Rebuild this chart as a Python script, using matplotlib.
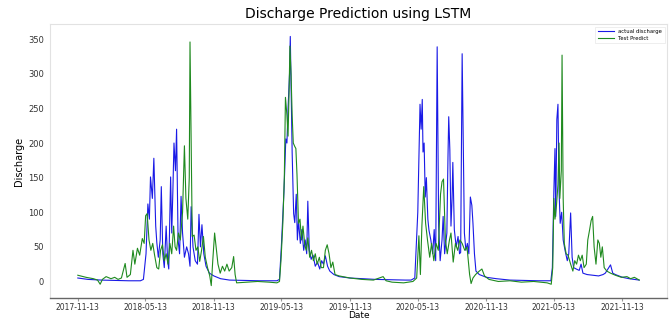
import matplotlib
matplotlib.use('Agg')
import matplotlib.pyplot as plt
import pandas as pd

# observed discharge
actual_dates = [
    '2017-11-13', '2017-12-10', '2018-01-15', '2018-02-20', '2018-03-30', '2018-04-30',
    '2018-05-08', '2018-05-15', '2018-05-20', '2018-05-24', '2018-05-27', '2018-06-01',
    '2018-06-05', '2018-06-10', '2018-06-13', '2018-06-17', '2018-06-22', '2018-06-25',
    '2018-06-29', '2018-07-03', '2018-07-08', '2018-07-12', '2018-07-15', '2018-07-20',
    '2018-07-23', '2018-07-26', '2018-07-29', '2018-08-02', '2018-08-05', '2018-08-09',
    '2018-08-13', '2018-08-17', '2018-08-21', '2018-08-26', '2018-09-01', '2018-09-06',
    '2018-09-10', '2018-09-13', '2018-09-18', '2018-09-24', '2018-09-30', '2018-10-04',
    '2018-10-08', '2018-10-12', '2018-10-17', '2018-10-23', '2018-11-01', '2018-11-13',
    '2018-12-01', '2018-12-25', '2019-02-01', '2019-03-15', '2019-04-20', '2019-05-01',
    '2019-05-08', '2019-05-13', '2019-05-17', '2019-05-20', '2019-05-25', '2019-05-28',
    '2019-05-31', '2019-06-04', '2019-06-06', '2019-06-09', '2019-06-11', '2019-06-15',
    '2019-06-18', '2019-06-22', '2019-06-25', '2019-06-28', '2019-07-03', '2019-07-07',
    '2019-07-12', '2019-07-16', '2019-07-20', '2019-07-23', '2019-07-27', '2019-08-01',
    '2019-08-06', '2019-08-12', '2019-08-18', '2019-08-24', '2019-08-29', '2019-09-03',
    '2019-09-08', '2019-09-14', '2019-09-20', '2019-10-01', '2019-10-15', '2019-11-13',
    '2019-12-15', '2020-01-20', '2020-03-01', '2020-04-10', '2020-04-25', '2020-05-05',
    '2020-05-13', '2020-05-17', '2020-05-19', '2020-05-22', '2020-05-25', '2020-05-27',
    '2020-05-30', '2020-06-02', '2020-06-05', '2020-06-09', '2020-06-12', '2020-06-17',
    '2020-06-22', '2020-06-26', '2020-06-30', '2020-07-04', '2020-07-08', '2020-07-12',
    '2020-07-17', '2020-07-20', '2020-07-24', '2020-07-30', '2020-08-02', '2020-08-04',
    '2020-08-07', '2020-08-10', '2020-08-13', '2020-08-15', '2020-08-19', '2020-08-24',
    '2020-08-29', '2020-09-02', '2020-09-05', '2020-09-09', '2020-09-12', '2020-09-15',
    '2020-09-19', '2020-09-23', '2020-09-27', '2020-10-01', '2020-10-05', '2020-10-08',
    '2020-10-12', '2020-10-16', '2020-10-25', '2020-11-13', '2020-12-10', '2021-01-15',
    '2021-02-20', '2021-04-01', '2021-05-05', '2021-05-09', '2021-05-13', '2021-05-16',
    '2021-05-18', '2021-05-21', '2021-05-24', '2021-05-27', '2021-05-30', '2021-06-03',
    '2021-06-07', '2021-06-12', '2021-06-18', '2021-06-22', '2021-06-27', '2021-07-01',
    '2021-07-05', '2021-07-12', '2021-07-20', '2021-07-25', '2021-07-30', '2021-08-10',
    '2021-08-25', '2021-09-10', '2021-09-22', '2021-09-28', '2021-10-12', '2021-10-18',
    '2021-10-25', '2021-11-13', '2021-12-01', '2021-12-28',
]
actual_vals = [
    5, 3, 2, 1.5, 1, 1,
    3, 40, 112, 90, 151, 120,
    178, 80, 56, 35, 60, 137,
    40, 20, 80, 30, 18, 151,
    70, 130, 200, 160, 220, 60,
    40, 123, 70, 35, 50, 40,
    22, 108, 50, 30, 25, 97,
    50, 82, 40, 22, 12, 8,
    4, 2, 1.5, 1, 1, 1,
    3, 50, 95, 130, 206, 200,
    250, 300, 354, 250, 186, 98,
    85, 126, 60, 88, 55, 75,
    45, 60, 40, 116, 45, 32,
    38, 22, 28, 18, 30, 25,
    37, 22, 15, 10, 7, 5,
    4, 3, 2.5, 2, 2, 5,
    100, 200, 256, 220, 263, 187,
    200, 122, 150, 90, 74, 60,
    40, 75, 30, 339, 80, 30,
    60, 94, 40, 70, 180, 238,
    190, 80, 120, 172, 75, 50,
    65, 40, 42, 329, 200, 70,
    45, 55, 40, 122, 110, 84,
    40, 15, 10, 6, 4, 2,
    1.5, 1, 1, 20, 130, 192,
    94, 234, 256, 130, 84, 100,
    60, 45, 30, 40, 99, 35,
    20, 18, 16, 25, 12, 10,
    9, 8, 10, 12, 24, 12,
    10, 6, 4, 2,
]

# LSTM prediction on the test period
pred_dates = [
    '2017-11-13', '2017-12-05', '2017-12-25', '2018-01-05', '2018-01-12', '2018-01-18',
    '2018-01-28', '2018-02-10', '2018-02-20', '2018-03-01', '2018-03-10', '2018-03-20',
    '2018-03-25', '2018-04-03', '2018-04-10', '2018-04-15', '2018-04-22', '2018-04-28',
    '2018-05-05', '2018-05-10', '2018-05-14', '2018-05-18', '2018-05-23', '2018-05-28',
    '2018-06-02', '2018-06-07', '2018-06-13', '2018-06-18', '2018-06-23', '2018-06-28',
    '2018-07-03', '2018-07-08', '2018-07-13', '2018-07-18', '2018-07-23', '2018-07-28',
    '2018-08-01', '2018-08-05', '2018-08-10', '2018-08-15', '2018-08-21', '2018-08-26',
    '2018-08-30', '2018-09-04', '2018-09-08', '2018-09-10', '2018-09-13', '2018-09-16',
    '2018-09-21', '2018-09-26', '2018-10-01', '2018-10-06', '2018-10-11', '2018-10-16',
    '2018-10-21', '2018-10-27', '2018-11-02', '2018-11-06', '2018-11-10', '2018-11-15',
    '2018-11-19', '2018-11-24', '2018-11-30', '2018-12-06', '2018-12-12', '2018-12-18',
    '2018-12-24', '2018-12-31', '2019-01-05', '2019-01-09', '2019-01-13', '2019-02-10',
    '2019-03-10', '2019-04-10', '2019-05-01', '2019-05-08', '2019-05-12', '2019-05-17',
    '2019-05-21', '2019-05-24', '2019-05-28', '2019-05-31', '2019-06-03', '2019-06-05',
    '2019-06-08', '2019-06-11', '2019-06-14', '2019-06-18', '2019-06-21', '2019-06-24',
    '2019-06-28', '2019-07-02', '2019-07-06', '2019-07-10', '2019-07-15', '2019-07-19',
    '2019-07-23', '2019-07-28', '2019-08-02', '2019-08-07', '2019-08-12', '2019-08-17',
    '2019-08-23', '2019-08-28', '2019-09-03', '2019-09-08', '2019-09-13', '2019-09-18',
    '2019-09-23', '2019-09-28', '2019-10-04', '2019-10-15', '2019-11-13', '2019-12-15',
    '2020-01-15', '2020-02-10', '2020-02-18', '2020-03-05', '2020-04-05', '2020-04-30',
    '2020-05-10', '2020-05-16', '2020-05-20', '2020-05-24', '2020-05-29', '2020-06-03',
    '2020-06-08', '2020-06-14', '2020-06-19', '2020-06-25', '2020-07-01', '2020-07-07',
    '2020-07-13', '2020-07-17', '2020-07-21', '2020-07-26', '2020-07-31', '2020-08-06',
    '2020-08-10', '2020-08-16', '2020-08-22', '2020-08-28', '2020-09-03', '2020-09-09',
    '2020-09-16', '2020-09-22', '2020-09-29', '2020-10-03', '2020-10-08', '2020-10-15',
    '2020-10-25', '2020-11-01', '2020-11-08', '2020-11-20', '2020-12-15', '2021-01-15',
    '2021-02-15', '2021-03-20', '2021-04-25', '2021-05-06', '2021-05-10', '2021-05-13',
    '2021-05-16', '2021-05-20', '2021-05-24', '2021-05-27', '2021-05-29', '2021-06-02',
    '2021-06-04', '2021-06-07', '2021-06-10', '2021-06-15', '2021-06-20', '2021-06-27',
    '2021-07-03', '2021-07-08', '2021-07-13', '2021-07-18', '2021-07-23', '2021-07-28',
    '2021-08-02', '2021-08-08', '2021-08-12', '2021-08-17', '2021-08-21', '2021-08-25',
    '2021-08-29', '2021-09-03', '2021-09-08', '2021-09-12', '2021-09-16', '2021-09-20',
    '2021-09-25', '2021-10-02', '2021-10-12', '2021-10-25', '2021-11-10', '2021-11-25',
    '2021-12-05', '2021-12-15', '2021-12-28',
]
pred_vals = [
    9, 6, 4, 2, -4, 3,
    7, 4, 6, 3, 5, 26,
    6, 10, 45, 25, 48, 38,
    62, 55, 95, 98, 60, 45,
    55, 38, 20, 18, 45, 53,
    30, 40, 25, 55, 40, 80,
    50, 45, 70, 60, 100, 196,
    120, 90, 150, 346, 200, 65,
    67, 45, 50, 29, 45, 65,
    35, 20, 8, -6, 30, 70,
    50, 25, 12, 22, 15, 25,
    15, 20, 36, 10, -2, -1,
    0, -1, -2, 0, 30, 84,
    150, 266, 240, 210, 280, 340,
    300, 240, 200, 195, 192, 154,
    84, 90, 60, 80, 52, 45,
    63, 35, 45, 30, 40, 25,
    35, 20, 20, 45, 53, 40,
    20, 28, 10, 8, 5, 3,
    2, 7, 1, -1, -2, 0,
    5, 66, 10, 80, 137, 84,
    60, 35, 55, 30, 55, 45,
    126, 144, 148, 60, 40, 60,
    70, 28, 55, 45, 60, 55,
    45, 50, 10, -3, 5, 10,
    15, 18, 8, 3, 0, 1,
    -1, 0, -2, -4, 20, 120,
    90, 110, 140, 200, 120, 160,
    327, 120, 55, 40, 38, 25,
    15, 30, 25, 38, 30, 38,
    20, 25, 60, 75, 88, 94,
    50, 25, 60, 55, 35, 50,
    20, 15, 12, 9, 6, 7,
    4, 6, 2,
]

tick_dates = ['2017-11-13', '2018-05-13', '2018-11-13', '2019-05-13', '2019-11-13',
              '2020-05-13', '2020-11-13', '2021-05-13', '2021-11-13']

fig = plt.figure(figsize=(6.72, 3.24), dpi=100)
ax = fig.add_axes([0.074, 0.08, 0.919, 0.846])

ax.plot(pd.to_datetime(actual_dates), actual_vals, color='#1a1ae6', lw=0.8,
        label='actual discharge')
ax.plot(pd.to_datetime(pred_dates), pred_vals, color='#1f8a1f', lw=0.8,
        label='Test Predict')

ax.set_xticks(pd.to_datetime(tick_dates))
ax.set_xticklabels(tick_dates, fontsize=5.5, color='#333333')
ax.set_yticks([0, 50, 100, 150, 200, 250, 300, 350])
ax.tick_params(axis='y', labelsize=6, length=0, pad=4, labelcolor='#333333')
ax.tick_params(axis='x', length=2, pad=1.5, color='#999999')

ax.set_title('Discharge Prediction using LSTM', fontsize=10, pad=4)
ax.set_ylabel('Discharge', fontsize=7, labelpad=3)
ax.set_xlabel('Date', fontsize=6.5)
# keep the axis label just under the tick labels, inside the figure
ax.xaxis.set_label_coords(0.5, -0.048)

for side in ['top', 'right', 'left']:
    ax.spines[side].set_color('#e2e2e2')
ax.spines['bottom'].set_color('#666666')
ax.spines['bottom'].set_linewidth(1.0)

leg = ax.legend(loc='upper right', fontsize=3.8, handlelength=3, borderpad=0.5,
                labelspacing=0.3, fancybox=False)
leg.get_frame().set_edgecolor('#e6e6e6')
leg.get_frame().set_linewidth(0.6)

fig.savefig('out.png', dpi=100)
